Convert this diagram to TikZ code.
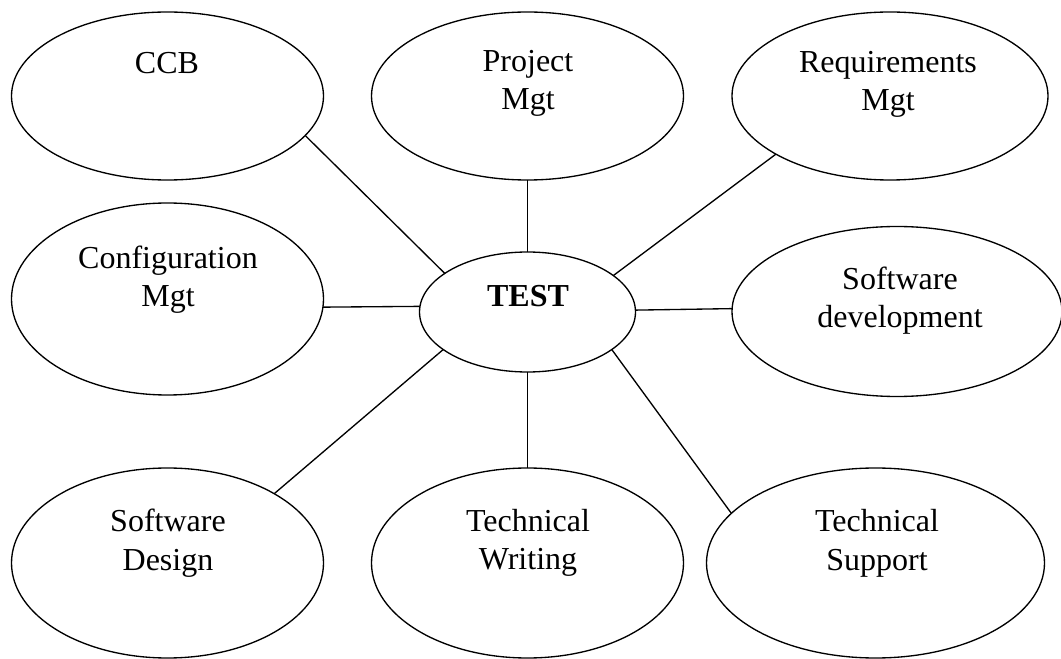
\documentclass[tikz,border=0pt]{standalone}
\usepackage{fontspec}
\setmainfont{Liberation Serif}
\usetikzlibrary{shapes.geometric}

\begin{document}
\begin{tikzpicture}[x=0.75pt, y=-0.75pt,
	bubble/.style={shape=ellipse,draw=black,line width=1pt,inner sep=0pt,outer sep=0pt},
	bubbletext/.style={anchor=base,align=center,inner sep=0pt,font=\fontsize{24}{28.7}\selectfont}]
	\useasboundingbox (0, 0) rectangle (1061, 659);

	\node[bubble,minimum width=234pt,minimum height=126pt] (ccb) at (167.5, 96) {};
	\node[bubble,minimum width=234pt,minimum height=126pt] (proj) at (527.5, 96) {};
	\node[bubble,minimum width=237pt,minimum height=126pt] (req) at (890, 96) {};
	\node[bubble,minimum width=234pt,minimum height=144pt] (conf) at (167.5, 299) {};
	\node[bubble,minimum width=162pt,minimum height=90pt] (test) at (527.5, 312) {};
	\node[bubble,minimum width=247.5pt,minimum height=127.5pt] (sdev) at (897, 311.5) {};
	\node[bubble,minimum width=234pt,minimum height=142.5pt] (design) at (167.5, 563) {};
	\node[bubble,minimum width=234pt,minimum height=142.5pt] (tw) at (527.5, 563) {};
	\node[bubble,minimum width=253.5pt,minimum height=142.5pt] (ts) at (875.5, 563) {};

	\node[bubbletext] (ccbtext) at (167, 73.3) {CCB};
	\node[bubbletext] (projtext) at (528, 110) {Project\\Mgt};
	\node[bubbletext] (reqtext) at (888, 110.3) {Requirements\\Mgt};
	\node[bubbletext] (conftext) at (168, 306.6) {Configuration\\Mgt};
	\node[bubbletext] (testtext) at (528, 306.7) {\textbf{TEST}};
	\node[bubbletext] (sdevtext) at (900, 327.6) {Software\\development};
	\node[bubbletext] (designtext) at (168, 570) {Software\\Design};
	\node[bubbletext] (twtext) at (528, 569.3) {Technical\\Writing};
	\node[bubbletext] (tstext) at (877, 570) {Technical\\Support};

	\path [-,line width=1pt] (ccb.-16.6) edge (test.155.5);
	\path [-,line width=1pt] (proj.south) edge (test.north);
	\path [-,line width=1pt] (req.207.8) edge (test.23.7);
	\path [-,line width=1pt] (conf.-3.2) edge (test.177.7);
	\path [-,line width=1pt] (test.1.4) edge (sdev.179.2);
	\path [-,line width=1pt] (design.33.2) edge (test.204);
	\path [-,line width=1pt] (tw.north) edge (test.south);
	\path [-,line width=1pt] (ts.161.3) edge (test.-24);
\end{tikzpicture}
\end{document}
